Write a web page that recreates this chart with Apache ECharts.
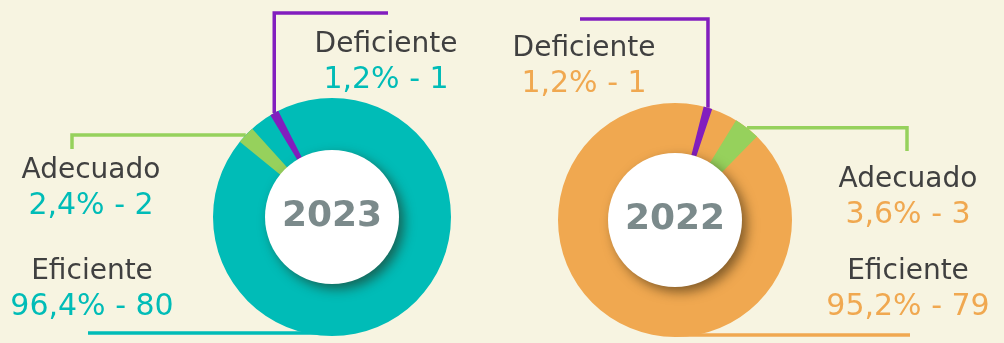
<!DOCTYPE html>
<html>
<head>
<meta charset="utf-8">
<title>Eficiencia 2023 / 2022</title>
<script src="https://cdn.jsdelivr.net/npm/echarts@6/dist/echarts.min.js"></script>
<style>
  html, body { margin: 0; padding: 0; background: #f7f4e1; }
  #chart { width: 1004px; height: 343px; }
</style>
</head>
<body>
<div id="chart"></div>
<script>
// Data
const categories = ['Eficiente', 'Adecuado', 'Deficiente'];
const years = ['2023', '2022'];
const counts2023 = [80, 2, 1];
const counts2022 = [79, 3, 1];

const FONT = 'DejaVu Sans';
const TEXT_DARK = '#404040';
const GREEN = '#96d15c';
const PURPLE = '#821ebe';

// Layout of each donut: ring geometry, angles of the small slices,
// label anchors and leader-line routing (index follows `categories`).
const layouts = [
  {
    center: [332, 217], outer: 119, inner: 60, hub: 67,
    color: '#00bcb7',
    startAngles: [90, 140.8, 121.2],
    labels: [
      { x: 92, y: 290, path: 'h', level: 333, end: 88 },
      { x: 91, y: 189, path: 'hv', bend: 72, end: 149 },
      { x: 386, y: 63, path: 'vh', bend: 13, end: 388 }
    ]
  },
  {
    center: [675, 220], outer: 117, inner: 60, hub: 67,
    color: '#f0a850',
    startAngles: [90, 58.5, 75.8],
    labels: [
      { x: 908, y: 290, path: 'h', level: 335, end: 910 },
      { x: 908, y: 198, path: 'hv', bend: 907, end: 151 },
      { x: 584, y: 67, path: 'vh', bend: 19, end: 580 }
    ]
  }
];

function leader(spec, p) {
  const a = p.labelLinePoints ? p.labelLinePoints[0] : [spec.x, spec.y];
  let pts;
  if (spec.path === 'vh') {
    pts = [a, [a[0], spec.bend], [spec.end, spec.bend]];
  } else if (spec.path === 'hv') {
    pts = [a, [spec.bend, a[1]], [spec.bend, spec.end]];
  } else {
    const y = Math.min(a[1], spec.level);
    pts = [[a[0], y], [spec.end, y], [spec.end, y]];
  }
  return {
    x: spec.x, y: spec.y,
    align: 'center', verticalAlign: 'middle',
    labelLinePoints: pts
  };
}

function donut(counts, year, cfg) {
  const total = counts.reduce((s, v) => s + v, 0);
  const colors = [cfg.color, GREEN, PURPLE];
  const pct = v => (v / total * 100).toFixed(1).replace('.', ',') + '%';
  const common = {
    type: 'pie',
    center: cfg.center,
    radius: [cfg.inner, cfg.outer],
    silent: true,
    clockwise: true,
    avoidLabelOverlap: false,
    emphasis: { disabled: true },
    itemStyle: { borderWidth: 0 }
  };
  const labelOf = i => ({
    show: true,
    position: 'outside',
    formatter: '{n|' + categories[i] + '}\n{v|' + pct(counts[i]) + ' - ' + counts[i] + '}',
    rich: {
      n: { fontFamily: FONT, fontSize: 28, color: TEXT_DARK, lineHeight: 34, align: 'center' },
      v: { fontFamily: FONT, fontSize: 30, color: cfg.color, lineHeight: 36, align: 'center' }
    }
  });
  const lineOf = i => ({
    show: true, length: 10, length2: 10, smooth: false,
    lineStyle: { width: 3.5, color: colors[i], cap: 'butt', join: 'miter' }
  });

  const out = [];
  // Base ring in the colour of the majority category
  out.push(Object.assign({}, common, {
    startAngle: cfg.startAngles[0],
    data: [{
      name: categories[0], value: counts[0],
      itemStyle: { color: colors[0] },
      label: labelOf(0), labelLine: lineOf(0)
    }],
    labelLayout: p => leader(cfg.labels[0], p)
  }));
  // Minor categories, each sized against the year's total
  for (let i = 1; i < categories.length; i++) {
    out.push(Object.assign({}, common, {
      startAngle: cfg.startAngles[i],
      data: [
        {
          name: categories[i], value: counts[i],
          itemStyle: { color: colors[i] },
          label: labelOf(i), labelLine: lineOf(i)
        },
        {
          name: '', value: total - counts[i],
          itemStyle: { color: 'rgba(0,0,0,0)' },
          label: { show: false }, labelLine: { show: false }
        }
      ],
      labelLayout: p => p.dataIndex === 0 ? leader(cfg.labels[i], p) : {}
    }));
  }
  // White hub with the year
  out.push({
    type: 'pie',
    center: cfg.center,
    radius: [0, cfg.hub],
    silent: true,
    emphasis: { disabled: true },
    data: [{ name: year, value: 1 }],
    itemStyle: {
      color: '#ffffff', borderWidth: 0,
      shadowBlur: 12, shadowOffsetX: 5, shadowOffsetY: 5,
      shadowColor: 'rgba(40,30,10,0.55)'
    },
    label: {
      show: true, position: 'center', formatter: year,
      fontFamily: FONT, fontSize: 36, fontWeight: 'bold', color: '#7b8a8b'
    },
    labelLine: { show: false }
  });
  return out;
}

const chart = echarts.init(document.getElementById('chart'), null, { renderer: 'canvas' });
chart.setOption({
  backgroundColor: '#f7f4e1',
  animation: false,
  series: [].concat(
    donut(counts2023, years[0], layouts[0]),
    donut(counts2022, years[1], layouts[1])
  )
});
</script>
</body>
</html>
